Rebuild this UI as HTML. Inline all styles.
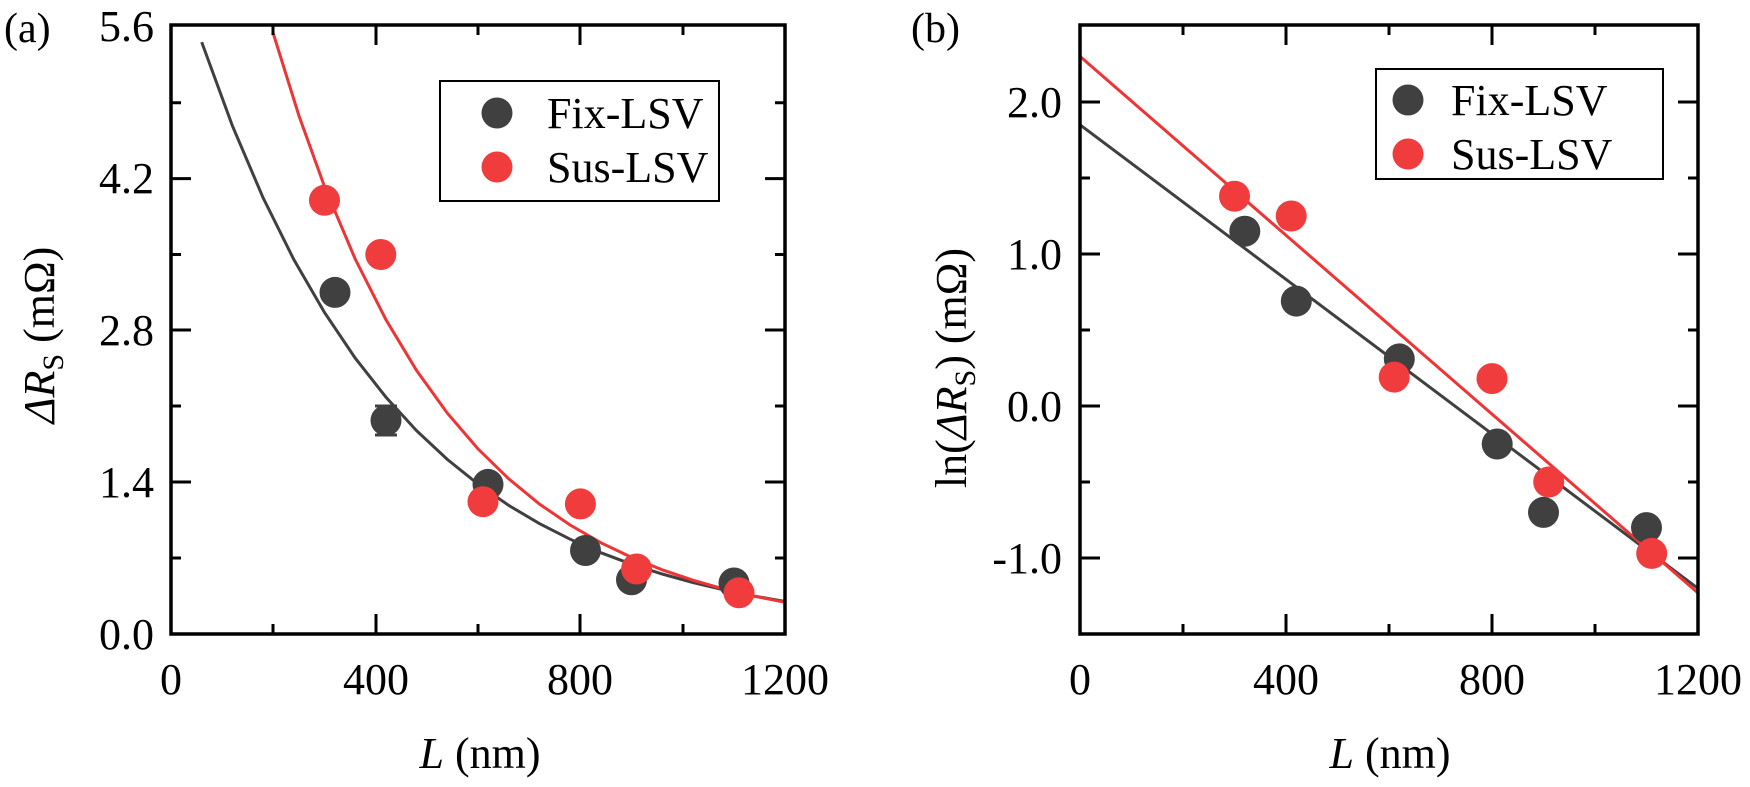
<!DOCTYPE html>
<html><head><meta charset="utf-8"><style>
html,body{margin:0;padding:0;background:#fff;}
svg{display:block;font-family:"Liberation Serif",serif;}
</style></head><body>
<svg width="1750" height="787" viewBox="0 0 1750 787" xmlns="http://www.w3.org/2000/svg">
<g font-size="42" fill="#000">
<text x="4" y="42">(a)</text>
<text x="911" y="42">(b)</text>
</g>
<!-- Panel A -->
<g>
<polyline fill="none" stroke="#404040" stroke-width="3" points="201.7,42.1 232.4,125.8 263.1,197.8 293.8,259.5 324.5,312.5 355.2,358.1 385.9,397.1 416.6,430.7 447.3,459.4 478,484.1 508.7,505.4 539.4,523.6 570.1,539.2 600.8,552.7 631.5,564.2 662.2,574 692.9,582.5 723.6,589.8 754.3,596.1 785,601.5"/>
<polyline fill="none" stroke="#ee3535" stroke-width="3" points="273.3,33.6 298.9,115.6 324.5,186.6 355.2,259 385.9,319.6 416.6,370.5 447.3,413.1 478,448.9 508.7,478.8 539.4,504 570.1,525 600.8,542.7 631.5,557.4 662.2,569.8 692.9,580.2 723.6,588.9 754.3,596.2 785,602.3"/>
<g fill="#404040">
<circle cx="335" cy="292.4" r="15.5"/><circle cx="386" cy="420.4" r="15.5"/><circle cx="488" cy="484.4" r="15.5"/><circle cx="585.5" cy="550.5" r="15.5"/><circle cx="631.5" cy="579.8" r="15.5"/><circle cx="734" cy="583" r="15.5"/>
</g>
<path d="M386 406V435M375 406H397M375 435H397" stroke="#404040" stroke-width="3"/>
<g fill="#f03c3c">
<circle cx="324.5" cy="200.3" r="15.5"/><circle cx="380.8" cy="254.5" r="15.5"/><circle cx="483" cy="501.7" r="15.5"/><circle cx="580.4" cy="503.9" r="15.5"/><circle cx="636.6" cy="569" r="15.5"/><circle cx="739" cy="592.8" r="15.5"/>
</g>
<rect x="171" y="25" width="614" height="609" fill="none" stroke="#000" stroke-width="3.5"/>
<path stroke="#000" stroke-width="3" d="
M376 634v-20M580 634v-20M273 634v-10M478 634v-10M683 634v-10
M376 25v20M580 25v20M273 25v10M478 25v10M683 25v10
M171 482h20M171 330h20M171 178.6h20M171 558h10M171 406h10M171 254.5h10M171 102.7h10
M785 482h-20M785 330h-20M785 178.6h-20M785 558h-10M785 406h-10M785 254.5h-10M785 102.7h-10"/>
<g font-size="44" text-anchor="end">
<text x="154" y="649">0.0</text><text x="154" y="497">1.4</text><text x="154" y="345">2.8</text><text x="154" y="193">4.2</text><text x="154" y="41">5.6</text>
</g>
<g font-size="44" text-anchor="middle">
<text x="171" y="694">0</text><text x="376" y="694">400</text><text x="580" y="694">800</text><text x="785" y="694">1200</text>
<text x="480" y="768"><tspan font-style="italic">L</tspan> (nm)</text>
</g>
<text transform="translate(54,335) rotate(-90)" font-size="44" text-anchor="middle"><tspan font-style="italic">ΔR</tspan><tspan font-size="30" dy="9">S</tspan><tspan dy="-9"> (mΩ)</tspan></text>
<rect x="440" y="81" width="279" height="120" fill="#fff" stroke="#000" stroke-width="2"/>
<circle cx="497" cy="113" r="15.5" fill="#404040"/><circle cx="497" cy="167" r="15.5" fill="#f03c3c"/>
<g font-size="44"><text x="547" y="128">Fix-LSV</text><text x="547" y="182">Sus-LSV</text></g>
</g>
<!-- Panel B -->
<g>
<line x1="1080" y1="124.8" x2="1698" y2="588.4" stroke="#404040" stroke-width="3"/>
<line x1="1080" y1="56.4" x2="1698" y2="593" stroke="#ee3535" stroke-width="3"/>
<g fill="#404040">
<circle cx="1244.8" cy="231.2" r="15.5"/><circle cx="1296.3" cy="301.1" r="15.5"/><circle cx="1399.3" cy="358.9" r="15.5"/><circle cx="1497.2" cy="444" r="15.5"/><circle cx="1543.5" cy="512.4" r="15.5"/><circle cx="1646.5" cy="527.6" r="15.5"/>
</g>
<g fill="#f03c3c">
<circle cx="1234.5" cy="196.2" r="15.5"/><circle cx="1291.2" cy="216" r="15.5"/><circle cx="1394.2" cy="377.1" r="15.5"/><circle cx="1492" cy="378.6" r="15.5"/><circle cx="1548.7" cy="482" r="15.5"/><circle cx="1651.7" cy="553.4" r="15.5"/>
</g>
<rect x="1080" y="25" width="618" height="609" fill="none" stroke="#000" stroke-width="3.5"/>
<path stroke="#000" stroke-width="3" d="
M1286 634v-20M1492 634v-20M1183 634v-10M1389 634v-10M1595 634v-10
M1286 25v20M1492 25v20M1183 25v10M1389 25v10M1595 25v10
M1080 102h20M1080 254h20M1080 406h20M1080 558h20M1080 178h10M1080 330h10M1080 482h10
M1698 102h-20M1698 254h-20M1698 406h-20M1698 558h-20M1698 178h-10M1698 330h-10M1698 482h-10"/>
<g font-size="44" text-anchor="end">
<text x="1062" y="117">2.0</text><text x="1062" y="269">1.0</text><text x="1062" y="421">0.0</text><text x="1062" y="573">-1.0</text>
</g>
<g font-size="44" text-anchor="middle">
<text x="1080" y="694">0</text><text x="1286" y="694">400</text><text x="1492" y="694">800</text><text x="1698" y="694">1200</text>
<text x="1390" y="768"><tspan font-style="italic">L</tspan> (nm)</text>
</g>
<text transform="translate(966,368) rotate(-90)" font-size="44" text-anchor="middle">ln(<tspan font-style="italic">ΔR</tspan><tspan font-size="30" dy="9">S</tspan><tspan dy="-9">) (mΩ)</tspan></text>
<rect x="1376" y="69" width="287" height="110" fill="#fff" stroke="#000" stroke-width="2"/>
<circle cx="1408" cy="100" r="15.5" fill="#404040"/><circle cx="1408" cy="154" r="15.5" fill="#f03c3c"/>
<g font-size="44"><text x="1451" y="115">Fix-LSV</text><text x="1451" y="169">Sus-LSV</text></g>
</g>
</svg>
</body></html>
